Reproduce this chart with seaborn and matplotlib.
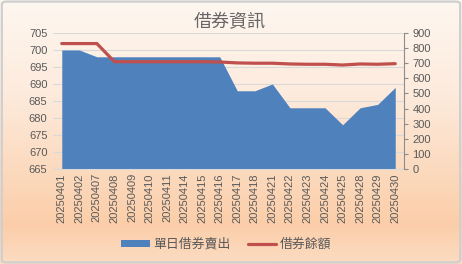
import numpy as np
import pandas as pd
import matplotlib
matplotlib.use("Agg")
import matplotlib.pyplot as plt
from matplotlib.patches import Patch, FancyBboxPatch
from matplotlib.lines import Line2D
from matplotlib.colors import LinearSegmentedColormap
import seaborn as sns

dates = ["20250401", "20250402", "20250407", "20250408", "20250409", "20250410",
         "20250411", "20250414", "20250415", "20250416", "20250417", "20250418",
         "20250421", "20250422", "20250423", "20250424", "20250425", "20250428",
         "20250429", "20250430"]
daily_short = [700, 700, 698, 698, 698, 698, 698, 698, 698, 698,
               688, 688, 690, 683, 683, 683, 678, 683, 684, 689]
balance = [830, 830, 830, 710, 710, 710, 710, 710, 710, 708,
           702, 700, 700, 695, 693, 693, 688, 695, 693, 697]
left_ticks = list(range(665, 706, 5))
right_ticks = list(range(0, 901, 100))

sns.set_theme(style="white")
plt.rcParams['font.family'] = ['Liberation Sans', 'Noto Sans CJK TC', 'DejaVu Sans']

text_color = "#595959"
blue = "#4F81BD"
red = "#C0504D"

df = pd.DataFrame({"date": dates, "x": np.arange(len(dates)),
                   "short": daily_short, "balance": balance})

fig = plt.figure(figsize=(4.62, 2.64), dpi=100)

# background gradient
bg = fig.add_axes([0, 0, 1, 1], zorder=-10)
cmap = LinearSegmentedColormap.from_list(
    "bg", [(0.0, "#FEF7F0"), (0.35, "#FDEBDD"), (0.85, "#FBCEA9"), (1.0, "#FCDCC2")])
grad = np.linspace(0, 1, 256).reshape(-1, 1)
bg.imshow(grad, aspect="auto", cmap=cmap, extent=[0, 1, 0, 1], origin="upper")
bg.set_xlim(0, 1)
bg.set_ylim(0, 1)
bg.axis("off")
bg.add_patch(FancyBboxPatch((0.004, 0.006), 0.992, 0.988,
                            boxstyle="round,pad=0,rounding_size=0.01",
                            transform=bg.transAxes, fill=False,
                            edgecolor="#CFCFCF", linewidth=1.6))

ax = fig.add_axes([0.1147, 0.36, 0.7598, 0.515])
ax.patch.set_alpha(0)
ax.fill_between(df["x"], df["short"], 665, color=blue, linewidth=0, zorder=2)
ax.set_xlim(-0.5, len(dates) - 0.5)
ax.set_ylim(665, 705)
ax.set_yticks(left_ticks)
ax.set_xticks(df["x"])
ax.set_xticklabels(dates, rotation=90, fontsize=8, color=text_color)
ax.set_xticks(np.arange(-0.5, len(dates), 1), minor=True)
ax.tick_params(axis="x", which="major", length=0, pad=3)
ax.tick_params(axis="x", which="minor", length=3, color="#D9D9D9", width=0.8)
ax.tick_params(axis="y", length=0, labelsize=8, labelcolor=text_color, pad=4)
ax.grid(axis="y", color="#D9D9D9", linewidth=0.8, zorder=0)
ax.set_axisbelow(True)
for s in ["top", "right", "left"]:
    ax.spines[s].set_visible(False)
ax.spines["bottom"].set_color("#D9D9D9")
ax.spines["bottom"].set_linewidth(0.8)
ax.set_xlabel("")
ax.set_ylabel("")

ax2 = ax.twinx()
sns.lineplot(data=df, x="x", y="balance", ax=ax2, color=red, linewidth=2.3, zorder=5)
ax2.set_ylim(0, 900)
ax2.set_yticks(right_ticks)
ax2.tick_params(axis="y", length=3, color="#8C8C8C", width=0.8,
                labelsize=8, labelcolor=text_color, pad=3)
for s in ["top", "left", "bottom"]:
    ax2.spines[s].set_visible(False)
ax2.spines["right"].set_color("#8C8C8C")
ax2.spines["right"].set_linewidth(0.8)
ax2.set_xlabel("")
ax2.set_ylabel("")
ax2.set_xlim(-0.5, len(dates) - 0.5)
ax2.grid(False)

fig.text(0.497, 0.915, "借券資訊", ha="center", va="center", fontsize=13, color="#666666")

handles = [Patch(facecolor=blue, edgecolor="none"),
           Line2D([0], [0], color=red, linewidth=2.3)]
fig.legend(handles, ["單日借券賣出", "借券餘額"], loc="center", ncol=2,
           bbox_to_anchor=(0.49, 0.073), frameon=False, fontsize=9.3,
           labelcolor=text_color, handlelength=2.2, handleheight=0.4,
           handletextpad=0.3, columnspacing=1.3)

fig.savefig("out.png", dpi=100)
